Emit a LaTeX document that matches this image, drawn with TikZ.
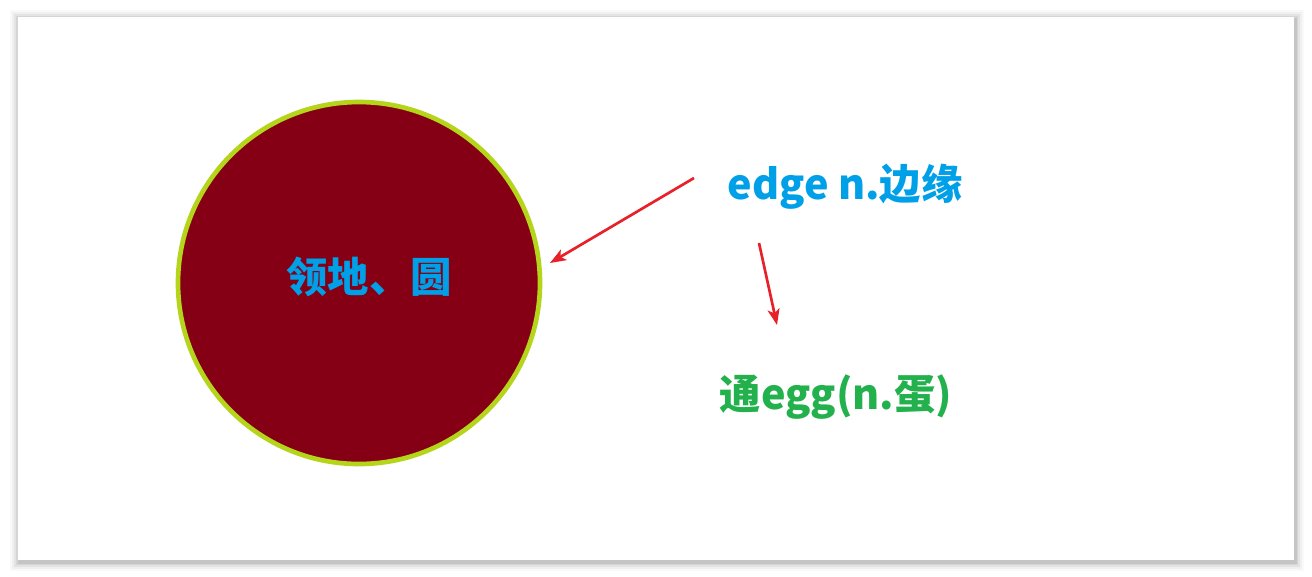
\documentclass[tikz,border=0pt]{standalone}
\usepackage{fontspec}
\newfontfamily\cjk{Noto Sans CJK SC}
\usetikzlibrary{arrows.meta}
\definecolor{darkred}{RGB}{133,0,21}
\definecolor{limeedge}{RGB}{181,213,26}
\definecolor{skyblue}{RGB}{0,160,233}
\definecolor{eggreen}{RGB}{34,177,76}
\definecolor{arrowred}{RGB}{232,32,42}
\tikzset{
  word/.style={font=\cjk\bfseries\fontsize{31}{36}\selectfont, inner sep=0.75pt},
  pointer/.style={draw=arrowred, line width=2pt, -{Stealth[length=12pt,width=9pt,inset=3pt]}}
}
\begin{document}
\begin{tikzpicture}[x=0.75pt,y=0.75pt,yscale=-1,xscale=1]
\useasboundingbox (0,0) rectangle (1312,576);
\fill[white] (0,0) rectangle (1312,576);

% Card shadow
\foreach \d/\o in {9/0.025,7/0.035,5/0.05,3/0.06,1.5/0.07}
  \fill[black, opacity=\o] (18-\d+1,17-\d+2) rectangle (1294+\d+1,560+\d+2);
\fill[white] (18,17) rectangle (1294,560);

% Circle
\draw [draw=limeedge, fill=darkred, line width=3.5pt] (359,283) circle (181);

% Text Node
\node [word, text=skyblue] (land) at (369,277) {领地、圆};
% Text Node
\node [word, text=skyblue] (edge) at (845,187) {edge n.边缘};
% Text Node
\node [word, text=eggreen] (egg) at (836,397) {通egg(n.蛋)};

\coordinate (tail1) at (694,178);
\coordinate (rim) at (550,263);
\coordinate (tail2) at (759,243);
\coordinate (head2) at (777,325);

% Connection
\draw [pointer] (tail1) -- (rim);
% Connection
\draw [pointer] (tail2) -- (head2);

\end{tikzpicture}
\end{document}
